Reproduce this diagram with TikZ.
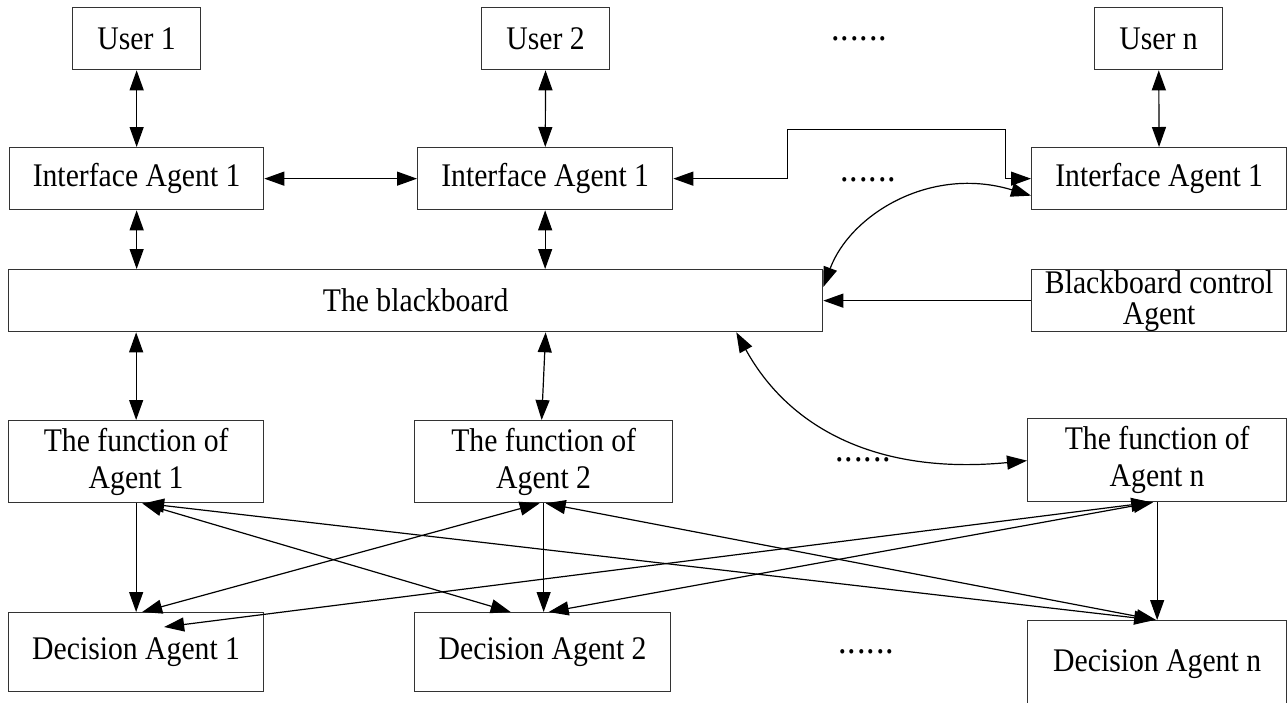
\documentclass[tikz,border=0pt]{standalone}
\usepackage{fontspec}
\setmainfont{Liberation Serif}[FakeStretch=0.9]
\usetikzlibrary{arrows.meta,calc}

% a row of six spaced dots
\newcommand{\dotrow}{.\kern1pt.\kern1pt.\kern1pt.\kern1pt.\kern1pt.}

\begin{document}
\begin{tikzpicture}[x=1pt,y=-1pt,
  box/.style={draw=black!80, line width=1.3pt, inner sep=0pt, anchor=north west,
    align=center, font=\fontsize{33}{37}\selectfont},
  dotsnode/.style={inner sep=0pt, anchor=base west, font=\fontsize{38}{38}\selectfont},
  tip/.tip={Triangle[length=20pt,width=14pt]},
  both/.style={line width=1.2pt, tip-tip},
  single/.style={line width=1.2pt, -tip}
]
\useasboundingbox (0,0) rectangle (1287,702);

% users
\node[box, minimum width=128pt, minimum height=62pt] (u1) at (72,7) {User 1};
\node[box, minimum width=128pt, minimum height=62pt] (u2) at (481,7) {User 2};
\node[box, minimum width=128pt, minimum height=62pt] (un) at (1094,7) {User n};

% interface agents
\node[box, minimum width=254pt, minimum height=62pt] (ia1) at (9,147) {Interface Agent 1};
\node[box, minimum width=255pt, minimum height=62pt] (ia2) at (417,147) {Interface Agent 1};
\node[box, minimum width=255pt, minimum height=62pt] (ian) at (1031,147) {Interface Agent 1};

% blackboard and its control agent
\node[box, minimum width=814pt, minimum height=62pt] (bb) at (8,269) {The blackboard};
\node[box, minimum width=255pt, minimum height=62pt, font=\fontsize{33}{31}\selectfont]
  (bc) at (1031,269) {Blackboard control\\Agent};

% function agents
\node[box, minimum width=255pt, minimum height=82pt] (f1) at (8,420) {The function of\\Agent 1};
\node[box, minimum width=258pt, minimum height=82pt] (f2) at (414,420) {The function of\\Agent 2};
\node[box, minimum width=259pt, minimum height=83pt] (fn) at (1027,418) {The function of\\Agent n};

% decision agents
\node[box, minimum width=255pt, minimum height=79pt] (d1) at (8,612) {Decision Agent 1};
\node[box, minimum width=256pt, minimum height=79pt] (d2) at (414,612) {Decision Agent 2};
\node[box, minimum width=259pt, minimum height=86pt] (dn) at (1027,620) {Decision Agent n};

% ellipsis marks
\node[dotsnode] (dt1) at (831,40) {\dotrow};
\node[dotsnode] (dt2) at (840,181) {\dotrow};
\node[dotsnode] (dt3) at (835,461) {\dotrow};
\node[dotsnode] (dt4) at (838,653) {\dotrow};

% users <-> interface agents
\draw[both] (u1) -- (ia1);
\draw[both] (u2) -- (ia2);
\draw[both] (un) -- (ian);

% interface agents among themselves
\draw[both] (ia1.east) -- (ia2.west);
\draw[both] (ia2.east) -- ++(114,0) -- ++(0,-49) -- ++(218,0) -- ++(0,49) -- (ian.west);

% interface agents <-> blackboard
\draw[both] (ia1.south) -- (ia1.south |- bb.north);
\draw[both] (ia2.south) -- (ia2.south |- bb.north);
\draw[both] ($(bb.north east)+(0,18)$) .. controls (850,215) and (930,165) .. ($(ian.west)+(0,17)$);

% control agent -> blackboard
\draw[single] (bc.west) -- (bb.east);

% blackboard <-> function agents
\draw[both] (bb.south -| f1.north) -- (f1.north);
\draw[both] ($(bb.south -| f2.north)+(2,0)$) -- ($(f2.north)+(-2,0)$);
\draw[both] ($(bb.south east)+(-87,0)$) .. controls (790,430) and (880,475) .. ($(fn.west)+(0,0.5)$);

% function agents -> decision agents
\draw[single] (f1.south) -- (f1.south |- d1.north);
\draw[single] (f2.south) -- (f2.south |- d2.north);
\draw[single] (fn.south) -- (fn.south |- dn.north);

% cross links between function and decision agents
\coordinate (d1in) at ($(d1.north)+(28,15)$);
\draw[both] ($(f1.south)+(6,0)$) -- ($(d2.north)+(-32,0)$);
\draw[both] ($(f1.south)+(8,0)$) -- ($(dn.north)+(-3,0)$);
\draw[both] ($(f2.south)+(-4,0)$) -- ($(d1.north)+(6,0)$);
\draw[both] ($(f2.south)+(2,0)$) -- ($(dn.north)+(-1,0)$);
\draw[both] ($(fn.south)+(-6,0)$) -- (d1in);
\draw[both] ($(fn.south)+(-4,0)$) -- ($(d2.north)+(6,0)$);
\end{tikzpicture}
\end{document}
